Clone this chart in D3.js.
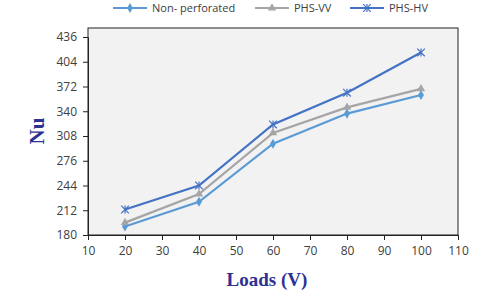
<!DOCTYPE html>
<html>
<head>
<meta charset="utf-8">
<script src="https://cdn.jsdelivr.net/npm/d3@7"></script>
<style>
  body { margin: 0; background: #fff; }
  text { font-family: "Open Sans", "DejaVu Sans", sans-serif; }
</style>
</head>
<body>
<div id="container"></div>
<script>
/* DATA */
const loads = [20, 40, 60, 80, 100];
const nonPerforated = [191, 223, 298, 337, 361];
const phsVV = [196, 233, 312, 345, 369];
const phsHV = [213, 244, 323, 364, 416];
const xTicks = [10, 20, 30, 40, 50, 60, 70, 80, 90, 100, 110];
const yTicks = [180, 212, 244, 276, 308, 340, 372, 404, 436];

const series = [
  { name: "Non- perforated", values: nonPerforated, color: "#5b9bd5", marker: "diamond" },
  { name: "PHS-VV", values: phsVV, color: "#a5a5a5", marker: "triangle" },
  { name: "PHS-HV", values: phsHV, color: "#4472c4", marker: "star" }
];

/* LAYOUT */
const width = 480, height = 297;
const plot = { left: 88, right: 458, top: 28, bottom: 235 };

const svg = d3.select("#container")
  .append("svg")
  .attr("width", width)
  .attr("height", height);

// scales
const x = d3.scaleLinear().domain([10, 110]).range([plot.left, plot.right]);
const y = d3.scaleLinear().domain([180, 436]).range([plot.bottom, 37]);

// plot background + frame
svg.append("rect")
  .attr("x", plot.left).attr("y", plot.top)
  .attr("width", plot.right - plot.left).attr("height", plot.bottom - plot.top)
  .attr("fill", "#f2f2f2")
  .attr("stroke", "#222").attr("stroke-width", 1);

// axes
const xAxis = svg.append("g")
  .attr("transform", `translate(0,${plot.bottom})`)
  .call(d3.axisBottom(x).tickValues(xTicks).tickSize(5).tickPadding(6));
const yAxis = svg.append("g")
  .attr("transform", `translate(${plot.left},0)`)
  .call(d3.axisLeft(y).tickValues(yTicks).tickSize(5).tickPadding(6));

[xAxis, yAxis].forEach(g => {
  g.select(".domain").attr("stroke", "#222");
  g.selectAll(".tick line").attr("stroke", "#222");
  g.selectAll(".tick text")
    .attr("fill", "#404040")
    .style("font-size", "12px")
    .style("font-family", "\"Open Sans\", \"DejaVu Sans\", sans-serif");
});

// axis titles
svg.append("text")
  .attr("x", 267).attr("y", 286)
  .attr("text-anchor", "middle")
  .style("font-family", "\"Liberation Serif\", \"DejaVu Serif\", serif")
  .style("font-weight", "bold").style("font-size", "19px")
  .attr("fill", "#2e3192")
  .text("Loads (V)");

svg.append("text")
  .attr("transform", "translate(44,131) rotate(-90)")
  .attr("text-anchor", "middle")
  .style("font-family", "\"Liberation Serif\", \"DejaVu Serif\", serif")
  .style("font-weight", "bold").style("font-size", "21px")
  .attr("fill", "#2e3192")
  .text("Nu");

// marker drawing
function drawMarker(g, type, color, cx, cy) {
  if (type === "diamond") {
    g.append("path")
      .attr("d", d3.symbol(d3.symbolDiamond, 30)())
      .attr("transform", `translate(${cx},${cy})`)
      .attr("fill", color);
  } else if (type === "triangle") {
    g.append("path")
      .attr("d", d3.symbol(d3.symbolTriangle, 30)())
      .attr("transform", `translate(${cx},${cy})`)
      .attr("fill", color);
  } else {
    g.append("path")
      .attr("d", d3.symbol(d3.symbolTimes, 40)())
      .attr("transform", `translate(${cx},${cy})`)
      .attr("fill", "none").attr("stroke", color).attr("stroke-width", 1.2);
    g.append("line")
      .attr("x1", cx).attr("x2", cx).attr("y1", cy - 4).attr("y2", cy + 4)
      .attr("stroke", color).attr("stroke-width", 1.2);
  }
}

// lines
const lineGen = d3.line().x((d, i) => x(loads[i])).y(d => y(d));

series.forEach(s => {
  const g = svg.append("g");
  g.append("path")
    .datum(s.values)
    .attr("d", lineGen)
    .attr("fill", "none")
    .attr("stroke", s.color)
    .attr("stroke-width", 2.2);
  s.values.forEach((v, i) => drawMarker(g, s.marker, s.color, x(loads[i]), y(v)));
});

// legend
const legendPos = [113, 255, 350];
series.forEach((s, i) => {
  const g = svg.append("g").attr("transform", `translate(${legendPos[i]},8)`);
  g.append("line")
    .attr("x1", 0).attr("x2", 34).attr("y1", 0).attr("y2", 0)
    .attr("stroke", s.color).attr("stroke-width", 2.2);
  drawMarker(g, s.marker, s.color, 17, 0);
  g.append("text")
    .attr("x", 39).attr("y", 0).attr("dy", "0.35em")
    .style("font-size", "11px")
    .attr("fill", "#404040")
    .text(s.name);
});
</script>
</body>
</html>
